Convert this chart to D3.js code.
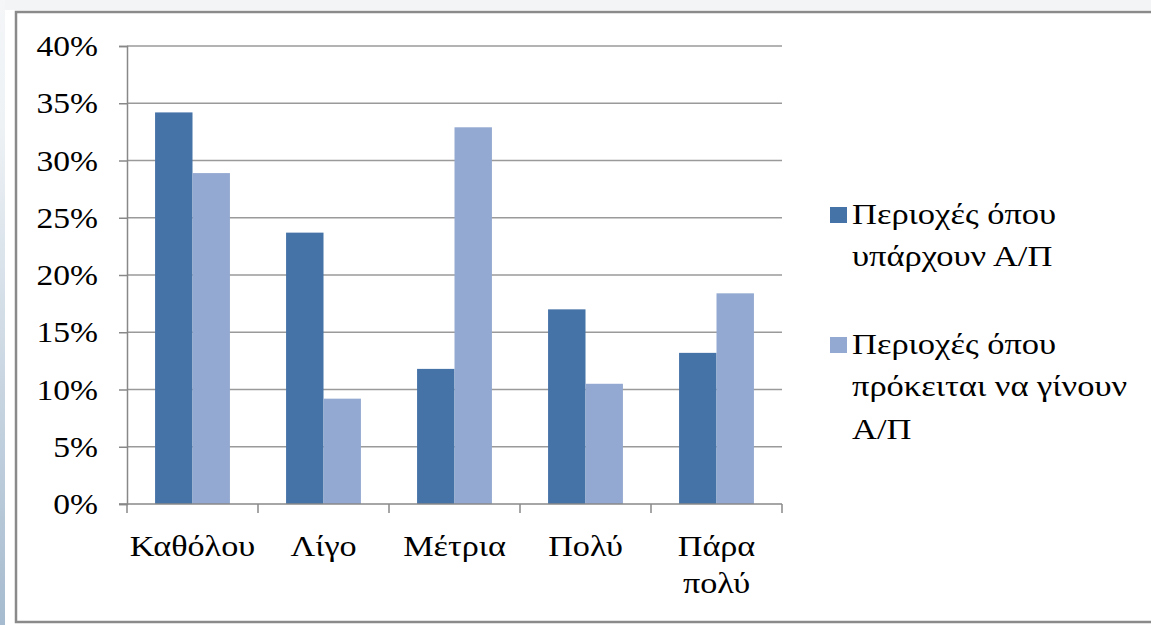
<!DOCTYPE html>
<html>
<head>
<meta charset="utf-8">
<script src="https://cdn.jsdelivr.net/npm/d3@7"></script>
<style>
  html, body { margin: 0; padding: 0; background: #ffffff; }
  svg { display: block; }
</style>
</head>
<body>
<svg id="chart" width="1151" height="625"></svg>
<script>
// Categories (x axis); the last label wraps onto two lines
const categories = ["Καθόλου", "Λίγο", "Μέτρια", "Πολύ", "Πάρα πολύ"];
const categoryLines = [["Καθόλου"], ["Λίγο"], ["Μέτρια"], ["Πολύ"], ["Πάρα", "πολύ"]];

// Series values, in percent
const seriesNames = ["Περιοχές όπου υπάρχουν Α/Π", "Περιοχές όπου πρόκειται να γίνουν Α/Π"];
const existing = [34.2, 23.7, 11.8, 17.0, 13.2];
const planned = [28.9, 9.2, 32.9, 10.5, 18.4];

// Legend text, wrapped
const legendLines = [["Περιοχές όπου", "υπάρχουν Α/Π"], ["Περιοχές όπου", "πρόκειται να γίνουν", "Α/Π"]];

// Y tick values (percent)
const yTicks = [0, 5, 10, 15, 20, 25, 30, 35, 40];

const colors = ["#4572A7", "#93A9D1"];
const FONT = "'Liberation Serif'";
const STRETCH = 1.12;   // slightly wide lettering

const svg = d3.select("#chart");
const W = 1151, H = 625;

// Writes a (possibly multi-line) label, widened horizontally around its anchor
function label(parent, x, y, lines, opts) {
  const t = parent.append("text")
    .attr("transform", `translate(${x},${y}) scale(${opts.stretch || STRETCH},1)`)
    .attr("text-anchor", opts.anchor || "start")
    .attr("fill", "#000")
    .style("font-family", FONT)
    .style("font-size", opts.size + "px");
  lines.forEach((ln, k) => {
    t.append("tspan").attr("x", 0).attr("y", k * opts.lineHeight).text(ln);
  });
  return t;
}

// Page backdrop: pale band on top and a blue-grey gradient strip on the left
const defs = svg.append("defs");
const grad = defs.append("linearGradient").attr("id", "edge").attr("x1", 0).attr("y1", 0).attr("x2", 0).attr("y2", 1);
grad.append("stop").attr("offset", "0%").attr("stop-color", "#f4f6f8");
grad.append("stop").attr("offset", "20%").attr("stop-color", "#eef2f5");
grad.append("stop").attr("offset", "100%").attr("stop-color", "#a6bbcf");
svg.append("rect").attr("x", 0).attr("y", 0).attr("width", W).attr("height", 10).attr("fill", "#f3f4f6");
svg.append("rect").attr("x", 0).attr("y", 0).attr("width", 5).attr("height", H).attr("fill", "url(#edge)");

// Chart frame
svg.append("rect")
  .attr("x", 16).attr("y", 12)
  .attr("width", W + 20).attr("height", 610)
  .attr("fill", "#ffffff")
  .attr("stroke", "#8a8a8a").attr("stroke-width", 2.5);

const plot = { left: 127, right: 782, top: 46, bottom: 504 };

const y = d3.scaleLinear().domain([0, 40]).range([plot.bottom, plot.top]);
const x0 = d3.scaleBand().domain(categories).range([plot.left, plot.right]).padding(0);
const bw = x0.bandwidth();
const barW = bw / 3.5;
const x1 = d3.scaleBand().domain([0, 1]).range([(bw - 2 * barW) / 2, (bw + 2 * barW) / 2]).padding(0);

// Horizontal gridlines
svg.append("g")
  .selectAll("line").data(yTicks.filter(d => d > 0)).join("line")
  .attr("x1", plot.left).attr("x2", plot.right)
  .attr("y1", d => y(d)).attr("y2", d => y(d))
  .attr("stroke", "#9a9a9a").attr("stroke-width", 1.5);

// Bars
const series = [existing, planned];
const g = svg.append("g");
series.forEach((vals, s) => {
  g.selectAll(null).data(vals).join("rect")
    .attr("x", (d, i) => x0(categories[i]) + x1(s))
    .attr("y", d => y(d))
    .attr("width", x1.bandwidth())
    .attr("height", d => plot.bottom - y(d))
    .attr("fill", colors[s]);
});

// Y axis (line and ticks from d3.axisLeft, labels written separately)
const yAxis = d3.axisLeft(y).tickValues(yTicks).tickFormat("").tickSize(8);
const ya = svg.append("g").attr("transform", `translate(${plot.left},0)`).call(yAxis);
ya.select(".domain").attr("stroke", "#888").attr("stroke-width", 1.5);
ya.selectAll(".tick line").attr("stroke", "#888").attr("stroke-width", 1.5);
const yl = svg.append("g");
yTicks.forEach(v => {
  label(yl, 98, y(v) + 10, [v + "%"], { size: 30, anchor: "end", lineHeight: 0 });
});

// X axis: line plus tick marks at category boundaries
const xa = svg.append("g");
xa.append("line").attr("x1", plot.left - 8).attr("x2", plot.right)
  .attr("y1", plot.bottom).attr("y2", plot.bottom)
  .attr("stroke", "#888").attr("stroke-width", 1.5);
const bounds = categories.map(c => x0(c)).concat([plot.right]);
xa.selectAll("line.tk").data(bounds).join("line").attr("class", "tk")
  .attr("x1", d => d).attr("x2", d => d)
  .attr("y1", plot.bottom).attr("y2", plot.bottom + 9)
  .attr("stroke", "#888").attr("stroke-width", 1.5);

// X category labels
const xl = svg.append("g");
categories.forEach((c, i) => {
  label(xl, x0(c) + bw / 2, 556, categoryLines[i], { size: 30, anchor: "middle", lineHeight: 37, stretch: 1.14 });
});

// Legend
const legend = svg.append("g");
const legendBase = [224, 354];
legendLines.forEach((lines, s) => {
  legend.append("rect")
    .attr("x", 830).attr("y", legendBase[s] - 17)
    .attr("width", 17).attr("height", 16)
    .attr("fill", colors[s]);
  label(legend, 852, legendBase[s], lines, { size: 30, anchor: "start", lineHeight: 42.5, stretch: 1.15 });
});
</script>
</body>
</html>
